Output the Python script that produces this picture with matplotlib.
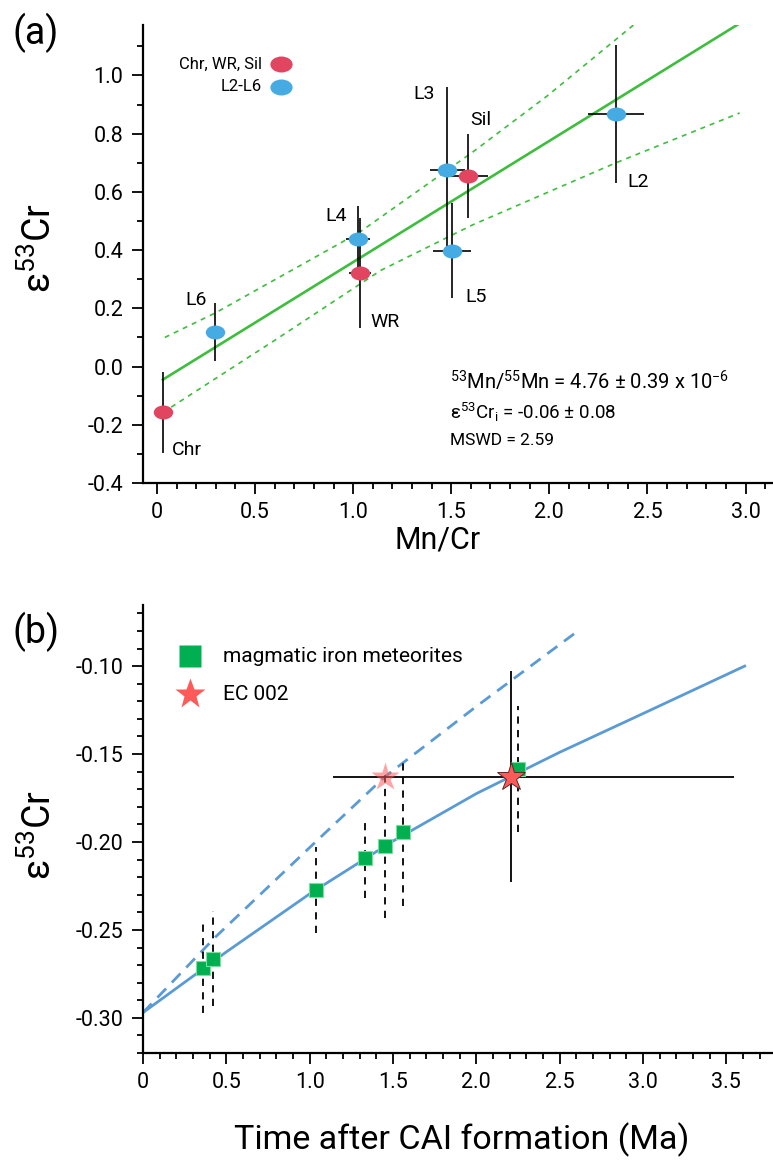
import numpy as np
import matplotlib
matplotlib.use('Agg')
import matplotlib.pyplot as plt
from matplotlib.path import Path
from matplotlib.ticker import MultipleLocator, FixedLocator

plt.rcParams['font.family'] = ['Roboto', 'DejaVu Sans']
plt.rcParams['mathtext.fontset'] = 'custom'
plt.rcParams['mathtext.rm'] = 'Roboto'
plt.rcParams['mathtext.it'] = 'Roboto'
plt.rcParams['mathtext.default'] = 'regular'
plt.rcParams['axes.unicode_minus'] = False

# ---- (a) Mn-Cr isochron data ----
samples = ['Chr', 'L6', 'L4', 'WR', 'L3', 'Sil', 'L5', 'L2']
fraction = ['bulk', 'leach', 'leach', 'bulk', 'leach', 'bulk', 'leach', 'leach']
mn_cr = [0.03, 0.296, 1.025, 1.036, 1.48, 1.587, 1.505, 2.34]
mn_cr_err = [0.0, 0.0, 0.06, 0.057, 0.09, 0.10, 0.097, 0.143]
eps53 = [-0.157, 0.12, 0.439, 0.322, 0.676, 0.655, 0.398, 0.868]
eps53_err = [0.14, 0.10, 0.113, 0.19, 0.285, 0.145, 0.163, 0.238]

fit_x = [0.03, 2.98]
fit_y = [-0.045, 1.183]
band_hi_x = [0.04, 0.30, 1.03, 1.48, 1.61, 1.99, 2.51]
band_hi_y = [0.10, 0.185, 0.46, 0.675, 0.737, 0.93, 1.218]
band_lo_x = [0.03, 0.60, 1.14, 1.61, 2.34, 2.97]
band_lo_y = [-0.158, 0.09, 0.33, 0.487, 0.70, 0.871]

# ---- (b) evolution of epsilon 53Cr with time ----
t_iron = [0.36, 0.42, 1.035, 1.33, 1.45, 1.56, 2.25]
eps_iron = [-0.2716, -0.2665, -0.2273, -0.2091, -0.2023, -0.1943, -0.1585]
eps_iron_err = [0.0255, 0.027, 0.0245, 0.023, 0.041, 0.042, 0.036]

ec_t = 2.205
ec_t_err = [1.068, 1.343]
ec_eps = -0.163
ec_eps_err = 0.060
ec_t_alt = 1.45

curve_t = [0, 0.5, 1.0, 1.5, 2.0, 2.5, 3.0, 3.61]
curve_eps = [-0.297, -0.2625, -0.2295, -0.1995, -0.1725, -0.149, -0.127, -0.100]
curve2_t = [0, 0.435, 1.035, 1.45, 1.995, 2.6]
curve2_eps = [-0.297, -0.254, -0.200, -0.163, -0.1233, -0.0807]

RED = '#E2455F'
BLUE = '#46ABE2'
GREEN = '#3DBE3D'
SQ = '#00B050'
STAR = '#FF5A5A'
CURVE = '#5B9BD5'
TICK_FS = 15.5

circ = Path.unit_circle()
ellipse = Path(circ.vertices * np.array([1.0, 0.72]), circ.codes)

fig = plt.figure(figsize=(7.73, 11.6), dpi=100)
ax1 = fig.add_axes([0.185, 0.5836, 0.815, 0.3948])
ax2 = fig.add_axes([0.185, 0.0922, 0.815, 0.3862])

for ax in (ax1, ax2):
    for s in ('top', 'right'):
        ax.spines[s].set_visible(False)
    for s in ('left', 'bottom'):
        ax.spines[s].set_linewidth(1.6)
    ax.tick_params(which='major', direction='out', length=8, width=1.3, pad=6)
    ax.tick_params(which='minor', direction='out', length=4, width=1.3)

# panel a
ax1.plot(fit_x, fit_y, color=GREEN, lw=1.9, zorder=2)
ax1.plot(band_hi_x, band_hi_y, color=GREEN, lw=1.2, ls=(0, (3, 3)), zorder=2)
ax1.plot(band_lo_x, band_lo_y, color=GREEN, lw=1.2, ls=(0, (3, 3)), zorder=2)
ax1.errorbar(mn_cr, eps53, xerr=mn_cr_err, yerr=eps53_err, fmt='none',
             ecolor='black', elinewidth=1.2, capsize=0, zorder=3)
for x, y, f in zip(mn_cr, eps53, fraction):
    ax1.plot(x, y, marker=ellipse, ms=14, color=RED if f == 'bulk' else BLUE,
             mec='none', zorder=4)

label_pos = {'Chr': (0.077, -0.288), 'L6': (0.143, 0.228), 'L4': (0.857, 0.518),
             'WR': (1.09, 0.154), 'L3': (1.306, 0.937), 'Sil': (1.597, 0.847),
             'L5': (1.57, 0.24), 'L2': (2.40, 0.635)}
for name in samples:
    lx, ly = label_pos[name]
    ax1.text(lx, ly, name, fontsize=14, ha='left', va='center')

ax1.plot(0.219, 0.915, marker=ellipse, ms=16, color=RED, mec='none',
         transform=ax1.transAxes, clip_on=False)
ax1.plot(0.219, 0.865, marker=ellipse, ms=16, color=BLUE, mec='none',
         transform=ax1.transAxes, clip_on=False)
ax1.text(0.189, 0.915, 'Chr, WR, Sil', fontsize=12, ha='right', va='center',
         transform=ax1.transAxes)
ax1.text(0.189, 0.865, 'L2-L6', fontsize=12, ha='right', va='center',
         transform=ax1.transAxes)

ax1.text(1.495, -0.051, r'$^{53}$Mn/$^{55}$Mn = 4.76 ± 0.39 x 10$^{-6}$', fontsize=14.5,
         ha='left', va='center')
ax1.text(1.495, -0.158, r'ε$^{53}$Cr$_{i}$ = -0.06 ± 0.08', fontsize=13.5,
         ha='left', va='center')
ax1.text(1.495, -0.254, 'MSWD = 2.59', fontsize=12.5, ha='left', va='center')

ax1.set_xlim(-0.071, 3.14)
ax1.set_ylim(-0.4, 1.173)
ax1.xaxis.set_major_locator(FixedLocator([0, 0.5, 1.0, 1.5, 2.0, 2.5, 3.0]))
ax1.set_xticklabels(['0', '0.5', '1.0', '1.5', '2.0', '2.5', '3.0'], fontsize=TICK_FS)
ax1.xaxis.set_minor_locator(MultipleLocator(0.1))
ax1.yaxis.set_major_locator(FixedLocator([-0.4, -0.2, 0, 0.2, 0.4, 0.6, 0.8, 1.0]))
ax1.set_yticklabels(['-0.4', '-0.2', '0.0', '0.2', '0.4', '0.6', '0.8', '1.0'],
                    fontsize=TICK_FS)
ax1.yaxis.set_minor_locator(MultipleLocator(0.1))

# panel b
ax2.plot(curve_t, curve_eps, color=CURVE, lw=2.0, zorder=2)
ax2.plot(curve2_t, curve2_eps, color=CURVE, lw=2.0, ls=(0, (4.5, 3)), zorder=2)
eb = ax2.errorbar(t_iron, eps_iron, yerr=eps_iron_err, fmt='none', ecolor='black',
                  elinewidth=1.3, capsize=0, zorder=3)
eb[2][0].set_linestyle((0, (4, 3.5)))
ax2.errorbar(ec_t, ec_eps, xerr=[[ec_t_err[0]], [ec_t_err[1]]], yerr=ec_eps_err,
             fmt='none', ecolor='black', elinewidth=1.3, capsize=0, zorder=3)
ax2.plot(t_iron, eps_iron, 's', ms=9.5, color=SQ, mec='#7fdca0', mew=0.8, zorder=4)
ax2.plot(ec_t_alt, ec_eps, '*', ms=21, color=STAR, mec='none', alpha=0.55, zorder=5)
ax2.plot(ec_t, ec_eps, '*', ms=21, color=STAR, mec='#5a2a2a', mew=0.7, zorder=5)

ax2.plot(0.0746, 0.886, 's', ms=16, color=SQ, mec='none', transform=ax2.transAxes)
ax2.plot(0.0746, 0.801, '*', ms=23, color=STAR, mec='none', transform=ax2.transAxes)
ax2.text(0.127, 0.886, 'magmatic iron meteorites', fontsize=15, ha='left', va='center',
         transform=ax2.transAxes)
ax2.text(0.127, 0.801, 'EC 002', fontsize=15, ha='left', va='center',
         transform=ax2.transAxes)

ax2.set_xlim(0, 3.78)
ax2.set_ylim(-0.32, -0.0653)
ax2.xaxis.set_major_locator(FixedLocator([0, 0.5, 1.0, 1.5, 2.0, 2.5, 3.0, 3.5]))
ax2.set_xticklabels(['0', '0.5', '1.0', '1.5', '2.0', '2.5', '3.0', '3.5'], fontsize=TICK_FS)
ax2.xaxis.set_minor_locator(MultipleLocator(0.1))
ax2.yaxis.set_major_locator(FixedLocator([-0.30, -0.25, -0.20, -0.15, -0.10]))
ax2.set_yticklabels(['-0.30', '-0.25', '-0.20', '-0.15', '-0.10'], fontsize=TICK_FS)
ax2.yaxis.set_minor_locator(MultipleLocator(0.01))

# axis titles and panel letters
fig.text(40 / 773, 1 - 248 / 1160, r'ε$^{53}$Cr', fontsize=27, rotation=90,
         ha='center', va='center')
fig.text(40 / 773, 1 - 835 / 1160, r'ε$^{53}$Cr', fontsize=27, rotation=90,
         ha='center', va='center')
fig.text(438 / 773, 1 - 540 / 1160, 'Mn/Cr', fontsize=22, ha='center', va='center')
fig.text(462 / 773, 1 - 1140 / 1160, 'Time after CAI formation (Ma)', fontsize=24.5,
         ha='center', va='center')
fig.text(36 / 773, 1 - 33 / 1160, '(a)', fontsize=27, ha='center', va='center')
fig.text(36 / 773, 1 - 632 / 1160, '(b)', fontsize=27, ha='center', va='center')

fig.savefig('out.png', dpi=100)
